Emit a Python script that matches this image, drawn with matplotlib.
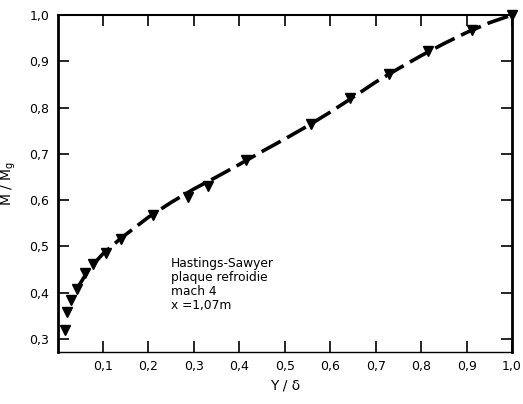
import numpy as np
import matplotlib.pyplot as plt

# measured points (Hastings-Sawyer, mach 4)
y_delta = [0.017, 0.021, 0.030, 0.043, 0.061, 0.077, 0.107, 0.140, 0.211,
           0.286, 0.330, 0.415, 0.558, 0.643, 0.729, 0.816, 0.913, 1.0]
m_ratio = [0.320, 0.359, 0.384, 0.408, 0.443, 0.462, 0.486, 0.516, 0.568,
           0.607, 0.631, 0.687, 0.765, 0.821, 0.873, 0.922, 0.968, 1.0]

# dashed fitted curve
curve_x = [0.045, 0.07, 0.10, 0.14, 0.20, 0.25, 0.30, 0.35, 0.40, 0.45,
           0.50, 0.55, 0.60, 0.65, 0.70, 0.75, 0.80, 0.85, 0.90, 0.95, 1.0]
curve_y = [0.412, 0.452, 0.484, 0.518, 0.563, 0.595, 0.624, 0.650, 0.677, 0.705,
           0.732, 0.760, 0.790, 0.822, 0.855, 0.884, 0.912, 0.938, 0.962, 0.983, 1.0]

xticks = [0.1, 0.2, 0.3, 0.4, 0.5, 0.6, 0.7, 0.8, 0.9, 1.0]
yticks = [0.3, 0.4, 0.5, 0.6, 0.7, 0.8, 0.9, 1.0]


def fr(v):
    return f"{v:.1f}".replace(".", ",")


fig = plt.figure(figsize=(5.23, 4.04), dpi=100)
ax = fig.add_axes([0.110, 0.129, 0.869, 0.834])

ax.plot(curve_x, curve_y, color="black", lw=2.6, linestyle=(0, (6, 2)),
        dash_capstyle="butt")
ax.plot(y_delta, m_ratio, linestyle="none", marker="v", color="black",
        markersize=6.5, clip_on=False)

ax.set_xlim(0, 1.0)
ax.set_ylim(0.272, 1.0)
ax.set_xticks(xticks)
ax.set_xticklabels([fr(v) for v in xticks])
ax.set_yticks(yticks)
ax.set_yticklabels([fr(v) for v in yticks])
ax.tick_params(direction="in", length=8, width=1.2, labelsize=9,
               top=True, right=True, pad=6)

for side, lw in [("left", 2.0), ("right", 2.0), ("top", 1.5), ("bottom", 1.0)]:
    ax.spines[side].set_linewidth(lw)

ax.set_xlabel("Y / δ", fontsize=10, labelpad=4)
ax.set_ylabel(r"M / M$_\mathrm{g}$", fontsize=10, labelpad=8)

ax.text(0.25, 0.478, "Hastings-Sawyer\nplaque refroidie\nmach 4\nx =1,07m",
        fontsize=8.8, va="top", ha="left", linespacing=1.1)

fig.savefig("out.png", dpi=100)
